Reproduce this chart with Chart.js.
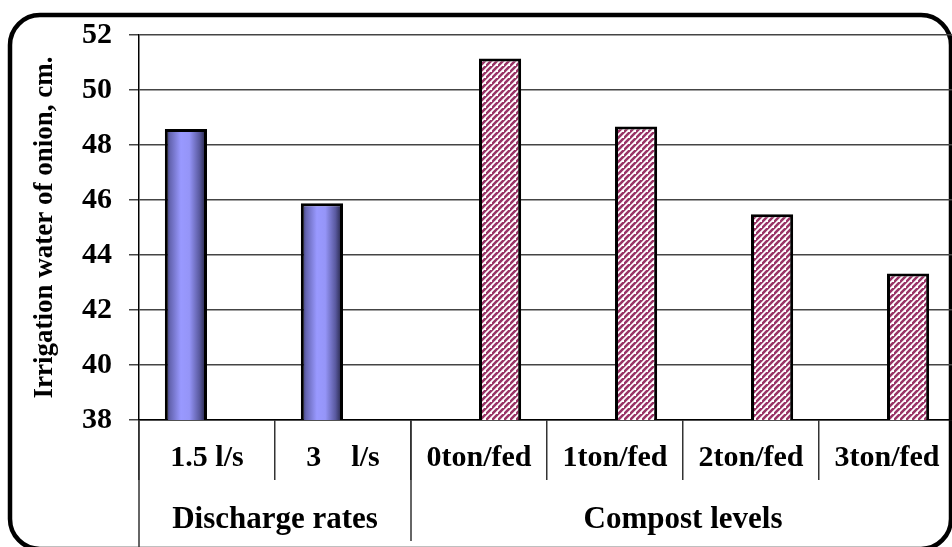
<!DOCTYPE html>
<html>
<head>
<meta charset="utf-8">
<script src="https://cdn.jsdelivr.net/npm/chart.js@4.4.1/dist/chart.umd.min.js"></script>
<style>
  html, body { margin: 0; padding: 0; background: #ffffff; overflow: hidden; }
  #wrap { position: relative; width: 960px; height: 547px; }
</style>
</head>
<body>
<div id="wrap"><canvas id="chart" width="960" height="547"></canvas></div>
<script>
// Irrigation water of onion (cm) by discharge rate and compost level
const categories = ['1.5 l/s', '3    l/s', '0ton/fed', '1ton/fed', '2ton/fed', '3ton/fed'];
const dischargeValues = [48.58, 45.88, null, null, null, null];
const compostValues = [null, null, 51.15, 48.67, 45.48, 43.33];
const groupNames = ['Discharge rates', 'Compost levels'];
const groupSizes = [2, 4];
const yMin = 38;
const yMax = 52;
const yStep = 2;
const yTitle = 'Irrigation water of onion, cm.';

const FONT = "'Liberation Serif', 'Times New Roman', serif";

// diagonal hatch fill for the compost bars
function makeHatch() {
  const s = 6;
  const c = document.createElement('canvas');
  c.width = s; c.height = s;
  const g = c.getContext('2d');
  g.fillStyle = '#ffffff';
  g.fillRect(0, 0, s, s);
  g.strokeStyle = '#993366';
  g.lineWidth = 2.6;
  g.beginPath();
  g.moveTo(-1, s + 1); g.lineTo(s + 1, -1);
  g.moveTo(-1 - s, s + 1); g.lineTo(1, -1);
  g.moveTo(s - 1, 2 * s + 1); g.lineTo(2 * s + 1, s - 1);
  g.stroke();
  return g.createPattern(c, 'repeat');
}

// rounded outer frame
const framePlugin = {
  id: 'frame',
  beforeDraw(chart) {
    const ctx = chart.ctx;
    const x0 = 10, y0 = 15, x1 = 951, y1 = 549, r = 30;
    ctx.save();
    ctx.fillStyle = '#ffffff';
    ctx.fillRect(0, 0, chart.width, chart.height);
    ctx.strokeStyle = '#000000';
    ctx.lineWidth = 4.5;
    ctx.beginPath();
    ctx.moveTo(x0 + r, y0);
    ctx.lineTo(x1 - r, y0);
    ctx.arcTo(x1, y0, x1, y0 + r, r);
    ctx.lineTo(x1, y1 - r);
    ctx.arcTo(x1, y1, x1 - r, y1, r);
    ctx.lineTo(x0 + r, y1);
    ctx.arcTo(x0, y1, x0, y1 - r, r);
    ctx.lineTo(x0, y0 + r);
    ctx.arcTo(x0, y0, x0 + r, y0, r);
    ctx.closePath();
    ctx.stroke();
    ctx.restore();
  }
};

// cylinder-like horizontal shading on the discharge bars
const shadePlugin = {
  id: 'shade',
  beforeDatasetDraw(chart, args) {
    if (args.index !== 0) return;
    const ctx = chart.ctx;
    args.meta.data.forEach((el) => {
      if (el.skip || el.width == null || isNaN(el.x)) return;
      const l = el.x - el.width / 2, r = el.x + el.width / 2;
      const g = ctx.createLinearGradient(l, 0, r, 0);
      g.addColorStop(0.0, '#26264a');
      g.addColorStop(0.12, '#6464b0');
      g.addColorStop(0.38, '#9999ff');
      g.addColorStop(0.58, '#9595f8');
      g.addColorStop(0.82, '#5a5aa0');
      g.addColorStop(1.0, '#1a1a34');
      el.options = Object.assign({}, el.options, { backgroundColor: g });
    });
  }
};

// group dividers and group names under the category labels
const groupPlugin = {
  id: 'groups',
  afterDraw(chart) {
    const ctx = chart.ctx;
    const xs = chart.scales.x;
    const area = chart.chartArea;
    const half = (xs.getPixelForValue(1) - xs.getPixelForValue(0)) / 2;
    ctx.save();
    ctx.strokeStyle = '#333333';
    ctx.lineWidth = 1.5;
    ctx.fillStyle = '#000000';
    ctx.font = 'bold 31px ' + FONT;
    ctx.textAlign = 'center';
    ctx.textBaseline = 'middle';
    // axis line continues down to the frame
    ctx.beginPath();
    ctx.moveTo(area.left, area.bottom);
    ctx.lineTo(area.left, 547);
    ctx.stroke();
    let start = 0;
    groupSizes.forEach((n, gi) => {
      const left = xs.getPixelForValue(start) - half;
      const right = xs.getPixelForValue(start + n - 1) + half;
      if (gi > 0) {
        ctx.beginPath();
        ctx.moveTo(left, area.bottom);
        ctx.lineTo(left, 541);
        ctx.stroke();
      }
      ctx.fillText(groupNames[gi], (left + right) / 2, 520);
      start += n;
    });
    ctx.restore();
  }
};

const hatch = makeHatch();

new Chart(document.getElementById('chart'), {
  type: 'bar',
  data: {
    labels: categories,
    datasets: [
      {
        label: groupNames[0],
        data: dischargeValues,
        backgroundColor: '#9999ff',
        borderColor: '#000000',
        borderWidth: 3,
        borderSkipped: false,
        barPercentage: 1,
        categoryPercentage: 0.62
      },
      {
        label: groupNames[1],
        data: compostValues,
        backgroundColor: hatch,
        borderColor: '#000000',
        borderWidth: 3,
        borderSkipped: false,
        barPercentage: 1,
        categoryPercentage: 0.62
      }
    ]
  },
  options: {
    responsive: false,
    animation: false,
    devicePixelRatio: 1,
    layout: { padding: { top: 35, right: 5, left: 0, bottom: 0 } },
    plugins: { legend: { display: false }, tooltip: { enabled: false } },
    scales: {
      x: {
        offset: true,
        grid: {
          offset: true,
          drawOnChartArea: false,
          drawTicks: true,
          tickLength: 60,
          color: '#333333',
          lineWidth: 1.5
        },
        border: { display: true, color: '#000000', width: 1.5 },
        ticks: {
          color: '#000000',
          padding: -40,
          maxRotation: 0,
          autoSkip: false,
          font: { family: FONT, size: 30, weight: 'bold' }
        },
        afterFit(scale) { scale.height = 127; }
      },
      y: {
        min: yMin,
        max: yMax,
        grid: {
          color: '#444444',
          lineWidth: 1.5,
          tickLength: 10
        },
        border: { display: true, color: '#000000', width: 1.5 },
        ticks: {
          stepSize: yStep,
          color: '#000000',
          padding: 17,
          font: { family: FONT, size: 30, weight: 'bold' }
        },
        title: {
          display: true,
          text: yTitle,
          color: '#000000',
          padding: { top: 29, bottom: 0 },
          font: { family: FONT, size: 27, weight: 'bold' }
        },
        afterFit(scale) { scale.width = 139; }
      }
    }
  },
  plugins: [framePlugin, shadePlugin, groupPlugin]
});
</script>
</body>
</html>
